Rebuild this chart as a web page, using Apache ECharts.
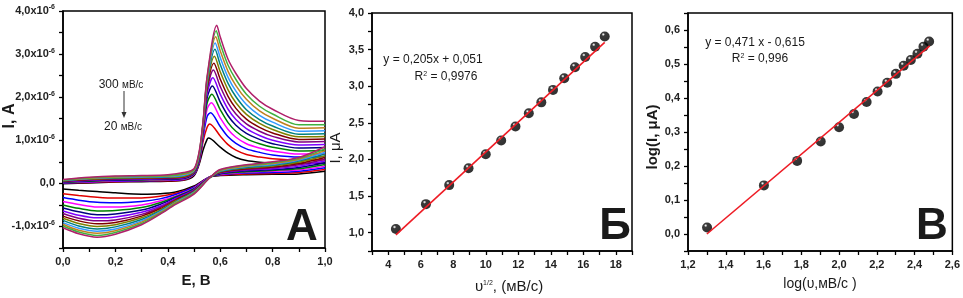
<!DOCTYPE html>
<html>
<head>
<meta charset="utf-8">
<script src="https://cdn.jsdelivr.net/npm/echarts@6/dist/echarts.min.js"></script>
<style>
  html, body { margin: 0; padding: 0; background: #fff; }
  #main { width: 963px; height: 298px; }
</style>
</head>
<body>
<div id="main"></div>
<script>
// ---- panel A: cyclic voltammograms, current in units of 1e-6 A ----
var scanRates = [20, 40, 60, 80, 100, 120, 140, 160, 180, 200, 220, 240, 260, 280, 300];
var curveColors = ['#000000', '#e00000', '#0000ff', '#ff00ff', '#008000', '#000080', '#8000ff', '#800080',
                   '#800000', '#808000', '#008080', '#3399ff', '#c08020', '#40b040', '#b0206a'];

// forward (anodic) sweep, before the peak
var anodicE = [0, 0.1, 0.2, 0.3, 0.4, 0.46, 0.5, 0.52, 0.535, 0.55];
var anodicI = [
  [-0.01, 0.01, 0.03, 0.04, 0.05, 0.07, 0.18, 0.45, 0.78, 1.02],
  [0.00, 0.02, 0.04, 0.05, 0.06, 0.08, 0.20, 0.48, 0.98, 1.30],
  [0.01, 0.03, 0.05, 0.06, 0.07, 0.09, 0.21, 0.50, 1.08, 1.55],
  [0.02, 0.04, 0.06, 0.07, 0.08, 0.10, 0.22, 0.52, 1.15, 1.72],
  [0.02, 0.05, 0.07, 0.08, 0.09, 0.11, 0.23, 0.54, 1.20, 1.86],
  [0.03, 0.06, 0.08, 0.09, 0.10, 0.12, 0.24, 0.56, 1.25, 1.98],
  [0.04, 0.07, 0.09, 0.10, 0.11, 0.13, 0.25, 0.58, 1.28, 2.08],
  [0.04, 0.08, 0.10, 0.11, 0.12, 0.14, 0.26, 0.60, 1.31, 2.16],
  [0.05, 0.09, 0.11, 0.12, 0.13, 0.15, 0.27, 0.62, 1.34, 2.23],
  [0.06, 0.10, 0.12, 0.13, 0.14, 0.16, 0.28, 0.64, 1.37, 2.29],
  [0.06, 0.11, 0.13, 0.14, 0.15, 0.18, 0.29, 0.66, 1.39, 2.34],
  [0.07, 0.11, 0.14, 0.15, 0.16, 0.19, 0.30, 0.68, 1.41, 2.38],
  [0.08, 0.12, 0.15, 0.16, 0.17, 0.21, 0.31, 0.70, 1.43, 2.42],
  [0.08, 0.13, 0.16, 0.17, 0.18, 0.23, 0.32, 0.72, 1.45, 2.45],
  [0.09, 0.14, 0.17, 0.18, 0.20, 0.25, 0.34, 0.75, 1.47, 2.48]
];
// anodic peaks
var peakE = [0.555, 0.560, 0.563, 0.566, 0.568, 0.570, 0.572, 0.574, 0.576, 0.578, 0.580, 0.581, 0.583, 0.585, 0.587];
var peakI = [1.05, 1.38, 1.64, 1.87, 2.07, 2.26, 2.45, 2.63, 2.79, 2.95, 3.11, 3.26, 3.40, 3.54, 3.67];
// forward sweep after the peak
var tailE = [0.6, 0.63, 0.66, 0.7, 0.75, 0.8, 0.9, 1.0];
var tailI = [
  [0.84, 0.70, 0.60, 0.53, 0.49, 0.47, 0.46, 0.47],
  [1.10, 0.90, 0.77, 0.67, 0.61, 0.57, 0.54, 0.55],
  [1.32, 1.08, 0.93, 0.80, 0.72, 0.66, 0.61, 0.62],
  [1.52, 1.25, 1.07, 0.92, 0.82, 0.75, 0.68, 0.69],
  [1.71, 1.41, 1.21, 1.04, 0.92, 0.84, 0.75, 0.76],
  [1.89, 1.57, 1.35, 1.16, 1.02, 0.92, 0.82, 0.83],
  [2.07, 1.72, 1.48, 1.27, 1.11, 1.00, 0.89, 0.90],
  [2.25, 1.87, 1.61, 1.38, 1.21, 1.09, 0.96, 0.97],
  [2.42, 2.02, 1.74, 1.49, 1.30, 1.17, 1.02, 1.03],
  [2.59, 2.17, 1.87, 1.60, 1.39, 1.25, 1.08, 1.09],
  [2.76, 2.32, 2.01, 1.71, 1.48, 1.33, 1.14, 1.15],
  [2.92, 2.46, 2.14, 1.83, 1.58, 1.42, 1.21, 1.22],
  [3.08, 2.60, 2.27, 1.95, 1.68, 1.51, 1.28, 1.29],
  [3.24, 2.74, 2.41, 2.07, 1.79, 1.61, 1.36, 1.36],
  [3.40, 2.88, 2.55, 2.20, 1.91, 1.72, 1.46, 1.44]
];
// reverse (cathodic) sweep
var cathodicE = [1.0, 0.9, 0.8, 0.7, 0.6, 0.56, 0.5, 0.43, 0.37, 0.3, 0.2, 0.13, 0.06, 0];
var cathodicI = [
  [0.28, 0.22, 0.21, 0.20, 0.18, 0.15, -0.06, -0.20, -0.24, -0.25, -0.22, -0.19, -0.16, -0.13],
  [0.32, 0.25, 0.23, 0.22, 0.19, 0.15, -0.08, -0.23, -0.30, -0.34, -0.34, -0.32, -0.28, -0.24],
  [0.36, 0.28, 0.25, 0.24, 0.20, 0.15, -0.09, -0.26, -0.36, -0.42, -0.45, -0.44, -0.39, -0.33],
  [0.40, 0.31, 0.28, 0.26, 0.21, 0.15, -0.11, -0.29, -0.41, -0.50, -0.55, -0.55, -0.49, -0.42],
  [0.44, 0.34, 0.30, 0.27, 0.22, 0.14, -0.12, -0.31, -0.45, -0.56, -0.63, -0.64, -0.58, -0.50],
  [0.48, 0.37, 0.32, 0.29, 0.23, 0.14, -0.14, -0.33, -0.49, -0.62, -0.71, -0.73, -0.66, -0.57],
  [0.52, 0.40, 0.34, 0.31, 0.24, 0.14, -0.15, -0.35, -0.53, -0.67, -0.78, -0.80, -0.74, -0.64],
  [0.56, 0.43, 0.36, 0.32, 0.25, 0.14, -0.16, -0.37, -0.56, -0.72, -0.85, -0.87, -0.81, -0.70],
  [0.60, 0.46, 0.38, 0.34, 0.26, 0.14, -0.18, -0.39, -0.59, -0.76, -0.91, -0.94, -0.87, -0.76],
  [0.64, 0.49, 0.40, 0.36, 0.27, 0.13, -0.19, -0.41, -0.62, -0.80, -0.96, -1.00, -0.93, -0.81],
  [0.68, 0.52, 0.42, 0.37, 0.28, 0.13, -0.20, -0.43, -0.64, -0.84, -1.01, -1.06, -0.99, -0.86],
  [0.72, 0.54, 0.44, 0.39, 0.29, 0.13, -0.21, -0.44, -0.66, -0.87, -1.06, -1.11, -1.04, -0.91],
  [0.76, 0.56, 0.46, 0.40, 0.30, 0.13, -0.22, -0.45, -0.68, -0.90, -1.10, -1.16, -1.09, -0.95],
  [0.80, 0.58, 0.48, 0.42, 0.31, 0.13, -0.23, -0.47, -0.70, -0.93, -1.14, -1.21, -1.13, -0.99],
  [0.85, 0.60, 0.50, 0.43, 0.32, 0.13, -0.25, -0.49, -0.72, -0.96, -1.18, -1.25, -1.17, -1.03]
];

// ---- panel Б: peak current vs sqrt(scan rate) ----
var sqrtRate = [4.47, 6.32, 7.75, 8.94, 10.0, 10.95, 11.83, 12.65, 13.42, 14.14, 14.83, 15.49, 16.12, 16.73, 17.32];
var peakCurrent = [1.05, 1.39, 1.65, 1.88, 2.07, 2.26, 2.45, 2.63, 2.78, 2.95, 3.11, 3.26, 3.40, 3.54, 3.68];
var fitB = [[4.47, 0.97], [17.32, 3.60]];

// ---- panel В: log(I) vs log(scan rate) ----
var logRate = [1.301, 1.602, 1.778, 1.903, 2.000, 2.079, 2.146, 2.204, 2.255, 2.301, 2.342, 2.380, 2.415, 2.447, 2.477];
var logCurrent = [0.019, 0.143, 0.215, 0.272, 0.314, 0.353, 0.388, 0.419, 0.445, 0.471, 0.495, 0.512, 0.530, 0.551, 0.566];
var fitC = [[1.30, 0.0], [2.48, 0.553]];

var FONT = 'Liberation Sans';

function comma(v, d) { return v.toFixed(d).replace('.', ','); }

function axisBase(extra) {
  var a = {
    type: 'value',
    axisLine: { show: true, onZero: false, lineStyle: { color: '#000', width: 1.5 } },
    axisTick: { show: true, inside: false, length: 4, lineStyle: { color: '#000', width: 1.3 } },
    splitLine: { show: false },
    axisLabel: { fontFamily: FONT, fontWeight: 'bold', fontSize: 11, color: '#222', margin: 8, showMinLabel: true, showMaxLabel: true }
  };
  for (var k in extra) {
    if (k === 'axisLabel') { for (var j in extra[k]) a.axisLabel[j] = extra[k][j]; }
    else a[k] = extra[k];
  }
  return a;
}

var myChart = echarts.init(document.getElementById('main'));

var series = [];
for (var k = 0; k < scanRates.length; k++) {
  var fwd = anodicE.map(function (e, i) { return [e, anodicI[k][i]]; });
  fwd.push([peakE[k], peakI[k]]);
  tailE.forEach(function (e, i) { fwd.push([e, tailI[k][i]]); });
  var rev = cathodicE.map(function (e, i) { return [e, cathodicI[k][i]]; });
  [fwd, rev].forEach(function (d) {
    series.push({
      type: 'line', xAxisIndex: 0, yAxisIndex: 0, data: d,
      showSymbol: false, smooth: 0.3, silent: true, z: 2,
      lineStyle: { color: curveColors[k], width: 1.5 }
    });
  });
}

var sphere = new echarts.graphic.RadialGradient(0.36, 0.3, 0.55, [
  { offset: 0, color: '#ffffff' },
  { offset: 0.14, color: '#aaaaaa' },
  { offset: 0.3, color: '#0a0a0a' },
  { offset: 1, color: '#000000' }
]);

series.push({
  type: 'scatter', xAxisIndex: 1, yAxisIndex: 1, symbolSize: 10, z: 2,
  data: sqrtRate.map(function (x, i) { return [x, peakCurrent[i]]; }),
  itemStyle: { color: sphere }
});
series.push({
  type: 'line', xAxisIndex: 1, yAxisIndex: 1, data: fitB, showSymbol: false, z: 3,
  lineStyle: { color: '#ee1c25', width: 1.6 }
});
series.push({
  type: 'scatter', xAxisIndex: 2, yAxisIndex: 2, symbolSize: 10, z: 2,
  data: logRate.map(function (x, i) { return [x, logCurrent[i]]; }),
  itemStyle: { color: sphere }
});
series.push({
  type: 'line', xAxisIndex: 2, yAxisIndex: 2, data: fitC, showSymbol: false, z: 3,
  lineStyle: { color: '#ee1c25', width: 1.6 }
});

var gridStyle = { show: true, borderColor: '#000', borderWidth: 1.5, backgroundColor: 'transparent', containLabel: false };

function txt(x, y, text, size, weight, rot, rich) {
  var o = {
    type: 'text', x: x, y: y, rotation: rot || 0, silent: true,
    style: { text: text, fontFamily: FONT, fontSize: size, fontWeight: weight || 'normal',
             fill: '#1a1a1a', align: 'center', verticalAlign: 'middle' }
  };
  if (rich) o.style.rich = rich;
  return o;
}

var supRich = {
  s: { fontSize: 7, lineHeight: 8, verticalAlign: 'top', fontFamily: FONT }
};

var option = {
  animation: false,
  backgroundColor: '#fff',
  grid: [
    Object.assign({ left: 63, top: 11, width: 262, height: 237 }, gridStyle),
    Object.assign({ left: 372, top: 13, width: 260, height: 238 }, gridStyle),
    Object.assign({ left: 688, top: 13, width: 268, height: 238 }, gridStyle)
  ],
  xAxis: [
    axisBase({ gridIndex: 0, min: 0, max: 1, interval: 0.1,
      axisLabel: { formatter: function (v) { return Math.round(v * 10) % 2 === 0 ? comma(v, 1) : ''; } } }),
    axisBase({ gridIndex: 1, min: 3, max: 19, interval: 1,
      axisLabel: { formatter: function (v) { return Math.round(v) % 2 === 0 ? String(Math.round(v)) : ''; } } }),
    axisBase({ gridIndex: 2, min: 1.2, max: 2.6, interval: 0.1,
      axisLabel: { formatter: function (v) { return Math.round(v * 10) % 2 === 0 ? comma(v, 1) : ''; } } })
  ],
  yAxis: [
    axisBase({ gridIndex: 0, min: -1.5, max: 4, interval: 0.5,
      axisLabel: {
        formatter: function (v) {
          var r = Math.round(v * 2);
          if (r % 2 !== 0) return '';
          if (r === 0) return '0,0';
          return '{m|' + comma(v, 1) + 'x10}{s|-6}';
        },
        rich: {
          m: { fontFamily: FONT, fontWeight: 'bold', fontSize: 11, lineHeight: 14, color: '#222' },
          s: { fontFamily: FONT, fontWeight: 'bold', fontSize: 7, lineHeight: 7, verticalAlign: 'top', color: '#222' }
        }
      } }),
    axisBase({ gridIndex: 1, min: 0.75, max: 4, interval: 0.25,
      axisLabel: { formatter: function (v) { return Math.round(v * 4) % 2 === 0 ? comma(v, 1) : ''; } } }),
    axisBase({ gridIndex: 2, min: -0.05, max: 0.65, interval: 0.05,
      axisLabel: { formatter: function (v) { return Math.round(v * 100) % 10 === 0 ? comma(v, 1) : ''; } } })
  ],
  series: series,
  graphic: [
    // axis titles
    txt(10, 116, 'I, A', 16, 'bold', Math.PI / 2),
    txt(196, 281, 'E, B', 15, 'bold'),
    txt(336, 148, 'I, μA', 15, 'normal', Math.PI / 2),
    txt(509, 287, 'υ{s|1/2}, (мВ/с)', 15, 'normal', 0, supRich),
    txt(653, 137, 'log(I, μA)', 15, 'bold', Math.PI / 2),
    txt(820, 284, 'log(υ,мВ/с )', 14, 'normal'),
    // scan-rate annotation in panel A
    txt(121, 85, '300 {u|мВ/с}', 12, 'normal', 0, { u: { fontSize: 10, fontFamily: FONT } }),
    { type: 'line', silent: true, shape: { x1: 124, y1: 91, x2: 124, y2: 114 }, style: { stroke: '#333', lineWidth: 1 } },
    { type: 'polygon', silent: true, shape: { points: [[121.5, 112], [126.5, 112], [124, 118]] }, style: { fill: '#333' } },
    txt(123, 127, '20 {u|мВ/с}', 12, 'normal', 0, { u: { fontSize: 10, fontFamily: FONT } }),
    // regression equations
    txt(433, 60, 'y = 0,205x + 0,051', 12, 'normal'),
    txt(446, 77, 'R{s|2} = 0,9976', 12, 'normal', 0, supRich),
    txt(755, 43, 'y = 0,471 x - 0,615', 12, 'normal'),
    txt(760, 59, 'R{s|2} = 0,996', 12, 'normal', 0, supRich),
    // panel letters
    txt(302, 228, 'А', 44, 'bold'),
    txt(615, 227, 'Б', 44, 'bold'),
    txt(932, 227, 'В', 44, 'bold')
  ]
};
myChart.setOption(option);
</script>
</body>
</html>
